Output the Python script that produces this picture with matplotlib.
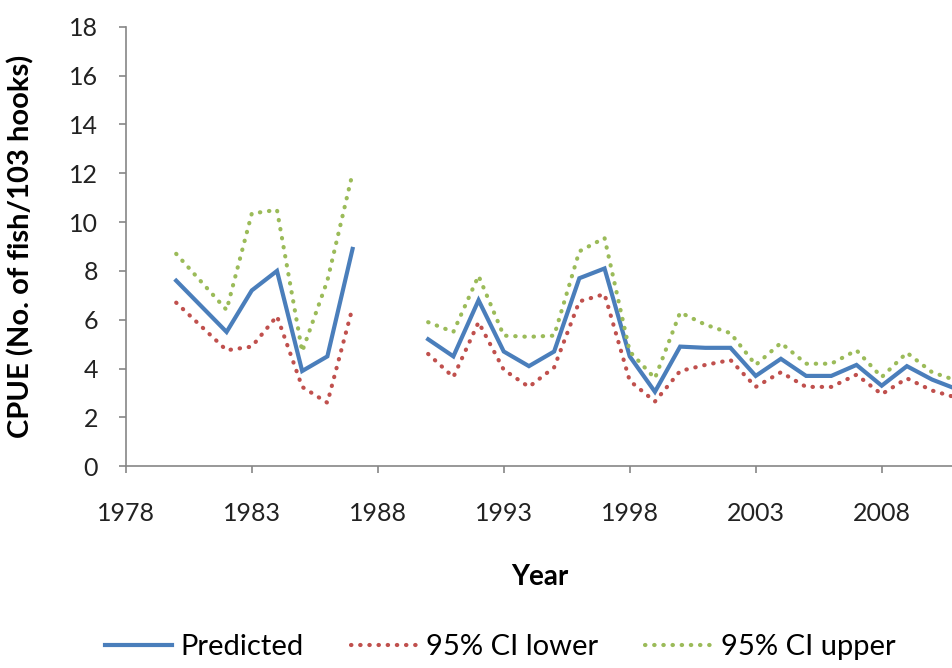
import numpy as np
import matplotlib
matplotlib.use("Agg")
import matplotlib.pyplot as plt

plt.rcParams['font.family'] = ['Lato', 'DejaVu Sans']

nan = np.nan

years = [1980, 1982, 1983, 1984, 1985, 1986, 1987, 1988, 1989,
         1990, 1991, 1992, 1993, 1994, 1995, 1996, 1997, 1998, 1999,
         2000, 2001, 2002, 2003, 2004, 2005, 2006, 2007, 2008, 2009, 2010, 2011]

predicted = [7.6, 5.5, 7.2, 8.0, 3.9, 4.5, 8.9, nan, nan,
             5.2, 4.5, 6.8, 4.7, 4.1, 4.7, 7.7, 8.1, 4.5, 3.05,
             4.9, 4.85, 4.85, 3.7, 4.4, 3.7, 3.7, 4.15, 3.3, 4.1, 3.55, 3.15]

ci_lower = [6.7, 4.75, 4.9, 6.15, 3.25, 2.6, 6.5, nan, nan,
            4.6, 3.65, 5.9, 3.95, 3.25, 4.05, 6.75, 7.05, 3.5, 2.65,
            3.9, 4.15, 4.35, 3.25, 3.85, 3.25, 3.25, 3.75, 2.95, 3.6, 3.1, 2.8]

ci_upper = [8.7, 6.4, 10.35, 10.5, 4.7, 7.6, 12.0, nan, nan,
            5.9, 5.5, 7.8, 5.35, 5.3, 5.35, 8.8, 9.35, 4.7, 3.6,
            6.3, 5.8, 5.45, 4.15, 5.05, 4.2, 4.2, 4.75, 3.65, 4.65, 3.85, 3.5]

xticks = [1978, 1983, 1988, 1993, 1998, 2003, 2008]
yticks = list(range(0, 19, 2))

fig = plt.figure(figsize=(9.53, 6.68), dpi=100)
ax = fig.add_axes([0.132, 0.302, 0.868, 0.658])

ax.plot(years, predicted, color='#4a7ebb', lw=3, label='Predicted', solid_joinstyle='miter')
ax.plot(years, ci_lower, color='#c0504d', lw=3, dashes=(0.1, 2.1),
        dash_capstyle='round', label='95% CI lower')
ax.plot(years, ci_upper, color='#9bbb59', lw=3, dashes=(0.1, 2.1),
        dash_capstyle='round', label='95% CI upper')

ax.set_xlim(1978, 2010.83)
ax.set_ylim(0, 18)
ax.set_xticks(xticks)
ax.set_yticks(yticks)

for s in ['top', 'right']:
    ax.spines[s].set_visible(False)
for s in ['left', 'bottom']:
    ax.spines[s].set_color('#868686')
    ax.spines[s].set_linewidth(1.2)

ax.tick_params(axis='both', colors='#868686', labelcolor='#222222',
               labelsize=18, length=5, width=1.2)
ax.tick_params(axis='x', pad=21)
ax.tick_params(axis='y', pad=15)

ax.set_xlabel('Year', fontsize=20, fontweight='bold', labelpad=28)
ax.set_ylabel('CPUE (No. of fish/103 hooks)', fontsize=21, fontweight='bold')
ax.yaxis.set_label_coords(-0.11, 0.5)

fig.legend(loc='lower center', bbox_to_anchor=(0.525, -0.028), ncol=3, frameon=False,
           fontsize=21, handlelength=2.3, columnspacing=1.6, handletextpad=0.3)

fig.savefig('out.png', dpi=100)
